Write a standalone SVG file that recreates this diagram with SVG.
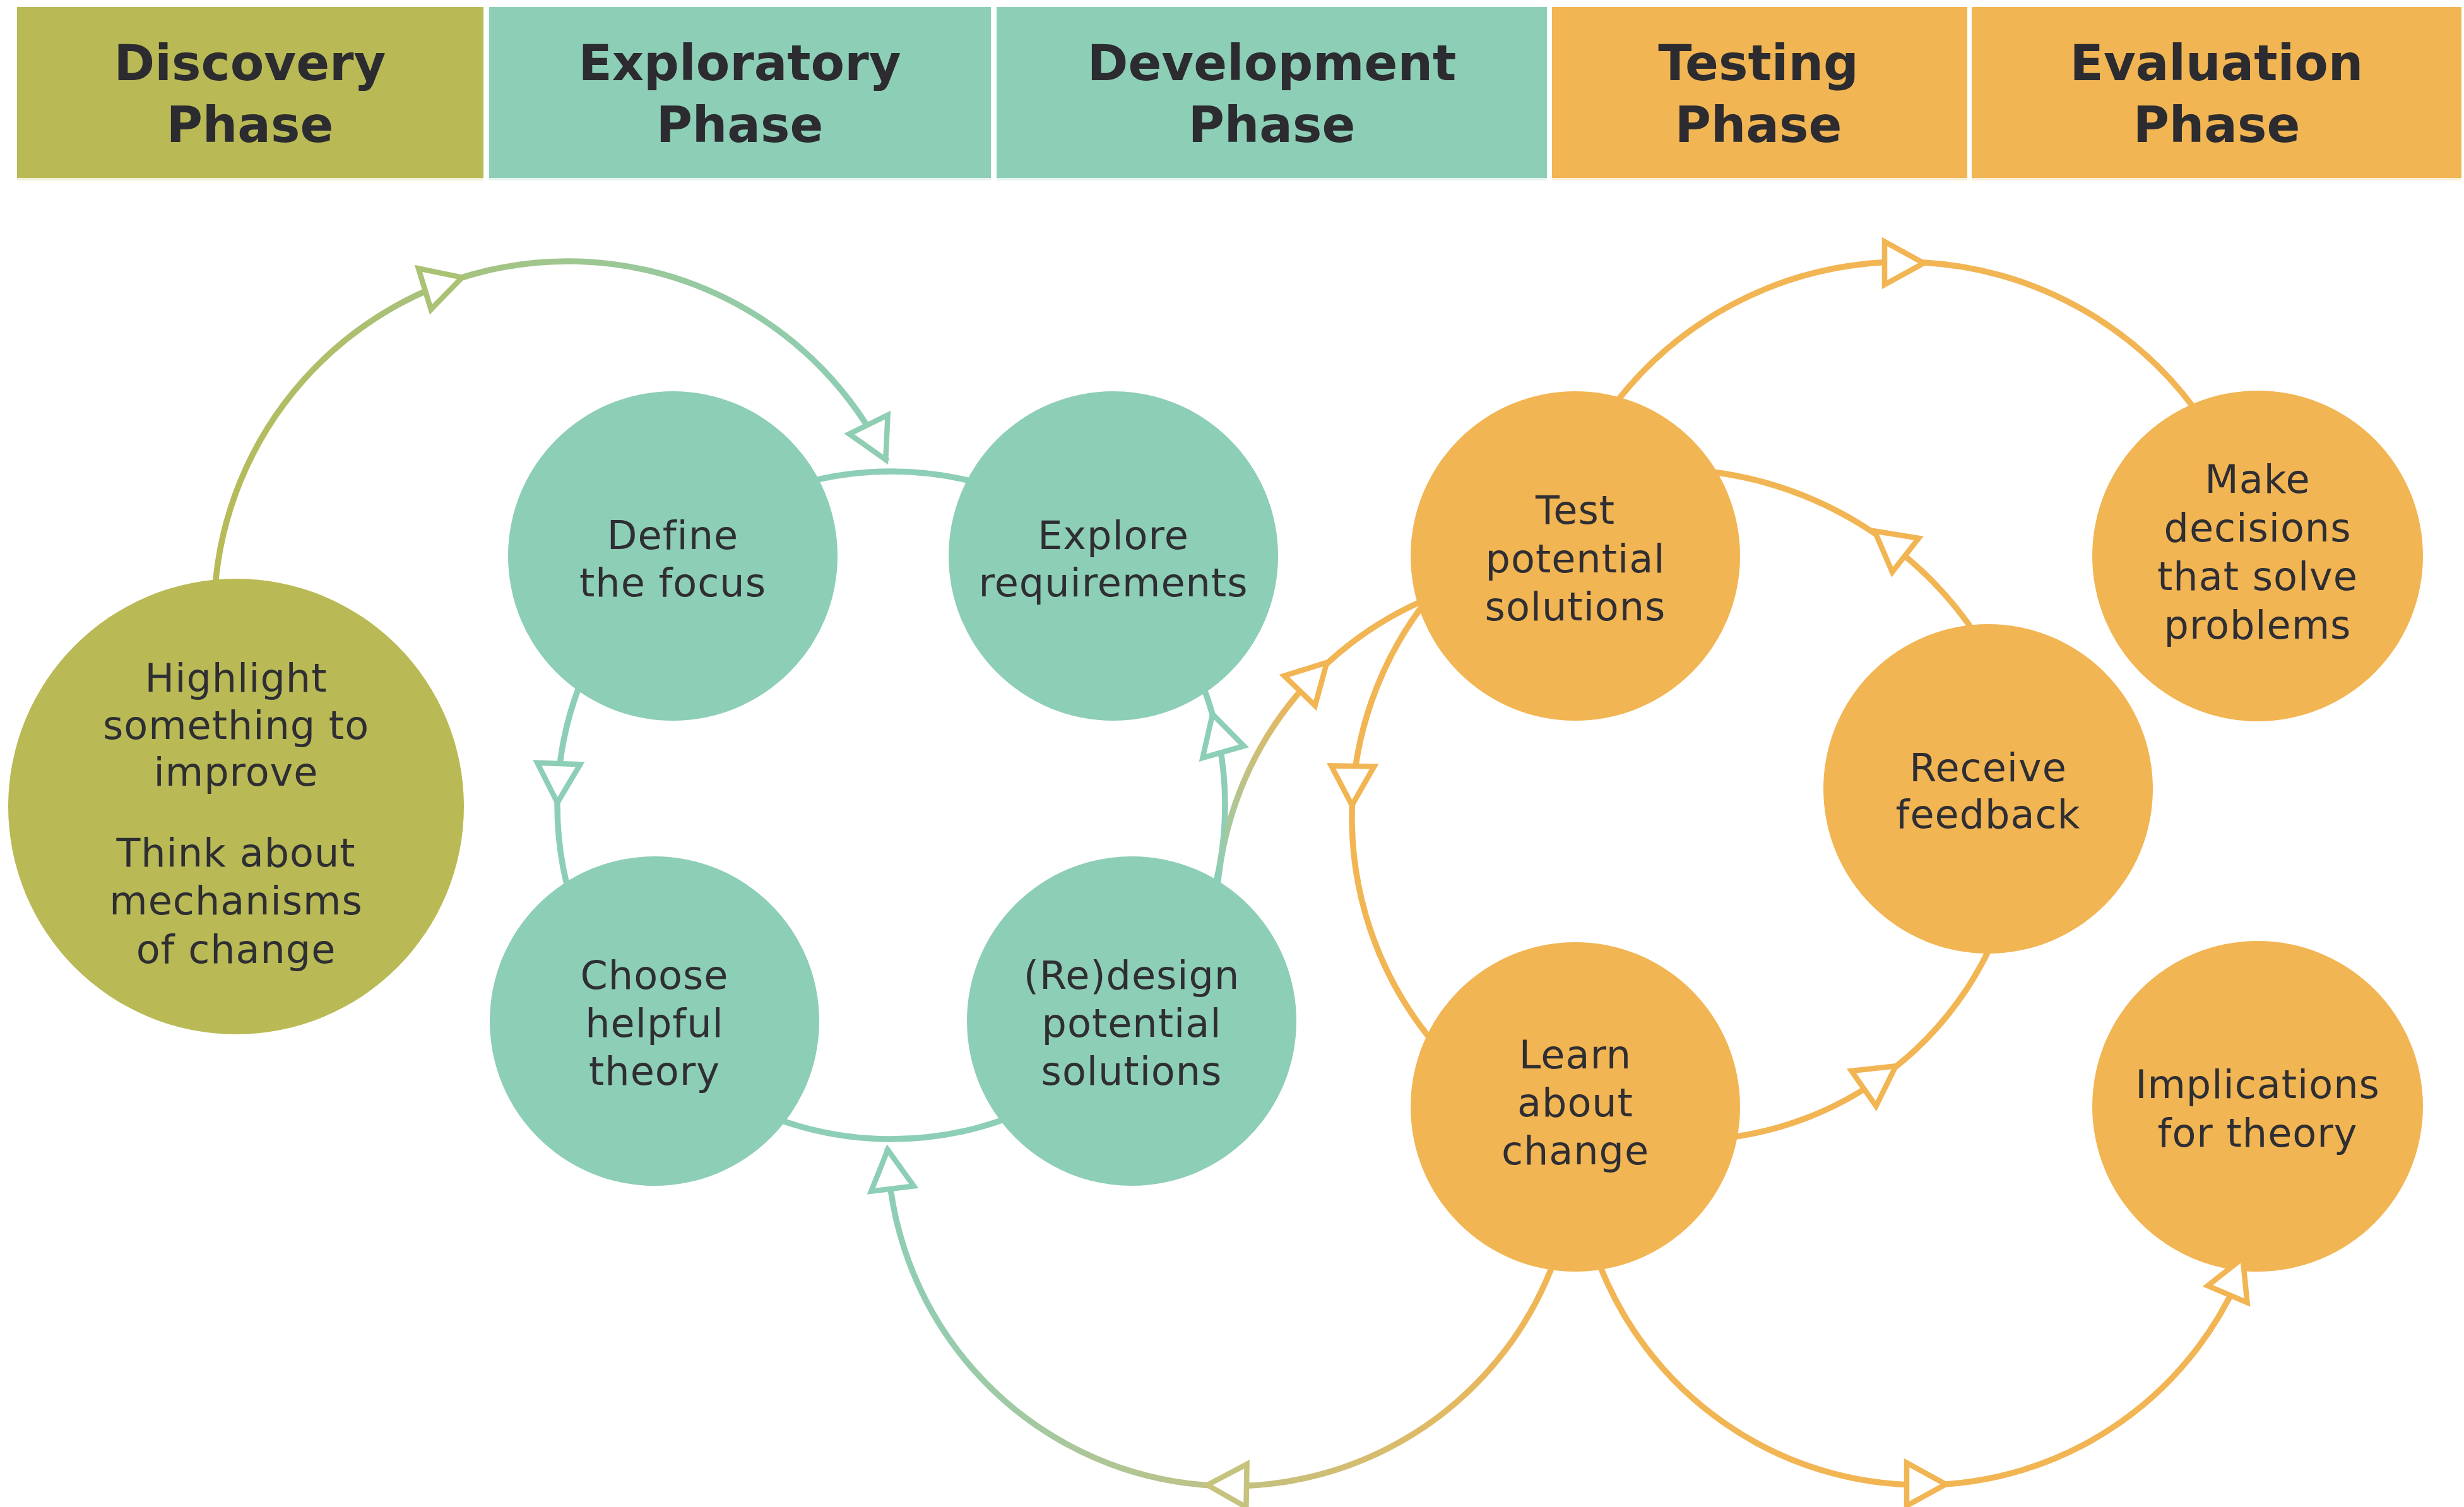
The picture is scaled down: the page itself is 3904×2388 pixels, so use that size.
<svg xmlns="http://www.w3.org/2000/svg" width="3904" height="2388" viewBox="0 0 3904 2388">
<style>
.hdr text{font-family:"DejaVu Sans","Liberation Sans",sans-serif;font-weight:bold;font-size:78px;fill:#2B2B30;text-anchor:middle}
.node text{font-family:"DejaVu Sans","Liberation Sans",sans-serif;font-size:62px;fill:#2E2E33;text-anchor:middle;letter-spacing:1px}
.olive{fill:#B9BA55}
.teal{fill:#8DCEB6}
.orange{fill:#F2B553}
.ln{fill:none;stroke-width:9.5}
.ah{fill:#FFFFFF;stroke-width:8.5;stroke-linejoin:miter}
.strip{opacity:0.22}
</style>
<defs>
<polygon id="ah" points="-4,0 -66,-34 -66,34"/>
<linearGradient id="gOlive" gradientUnits="userSpaceOnUse" x1="340" y1="936" x2="1405" y2="731">
<stop offset="0" stop-color="#B8BA55"/>
<stop offset="1" stop-color="#8DCEB6"/>
</linearGradient>
<linearGradient id="gBottom" gradientUnits="userSpaceOnUse" x1="2463" y1="2000" x2="1406" y2="2000">
<stop offset="0" stop-color="#F2B553"/>
<stop offset="1" stop-color="#8DCEB6"/>
</linearGradient>
<linearGradient id="gRT" gradientUnits="userSpaceOnUse" x1="1935" y1="1390" x2="2060" y2="1090">
<stop offset="0" stop-color="#8DCEB6"/>
<stop offset="1" stop-color="#F2B553"/>
</linearGradient>
</defs>
<rect width="3904" height="2388" fill="#FFFFFF"/>

<g id="header-discovery" class="hdr">
<rect x="27" y="11" width="739" height="271" class="olive"/>
<rect x="27" y="282" width="739" height="4" class="olive strip"/>
<text x="396" y="127">Discovery</text>
<text x="396" y="225">Phase</text>
</g>
<g id="header-exploratory" class="hdr">
<rect x="775" y="11" width="795" height="271" class="teal"/>
<rect x="775" y="282" width="795" height="4" class="teal strip"/>
<text x="1172" y="127">Exploratory</text>
<text x="1172" y="225">Phase</text>
</g>
<g id="header-development" class="hdr">
<rect x="1579" y="11" width="872" height="271" class="teal"/>
<rect x="1579" y="282" width="872" height="4" class="teal strip"/>
<text x="2015" y="127">Development</text>
<text x="2015" y="225">Phase</text>
</g>
<g id="header-testing" class="hdr">
<rect x="2459" y="11" width="658" height="271" class="orange"/>
<rect x="2459" y="282" width="658" height="4" class="orange strip"/>
<text x="2786" y="127">Testing</text>
<text x="2786" y="225">Phase</text>
</g>
<g id="header-evaluation" class="hdr">
<rect x="3124" y="11" width="776" height="271" class="orange"/>
<rect x="3124" y="282" width="776" height="4" class="orange strip"/>
<text x="3512" y="127">Evaluation</text>
<text x="3512" y="225">Phase</text>
</g>

<g id="connectors">
<path class="ln" stroke="url(#gOlive)" d="M 340.4 936.1 A 561 561 0 0 1 1405.1 730.8"/>
<circle class="ln" stroke="#8DCEB6" cx="1412" cy="1276" r="529"/>
<path class="ln" stroke="url(#gBottom)" d="M 2463.1 1996.4 A 545 545 0 0 1 1406.1 1819.5"/>
<path class="ln" stroke="url(#gRT)" d="M 1927.7 1424.4 A 547 547 0 0 1 2269.1 945.8"/>
<path class="ln" stroke="#F2B553" d="M 2260.3 951.5 A 558 558 0 0 0 2272.5 1653.7"/>
<path class="ln" stroke="#F2B553" d="M 3136 1013.9 A 595 595 0 0 0 2699.2 746.3"/>
<path class="ln" stroke="#F2B553" d="M 2726.7 1804.1 A 533 533 0 0 0 3157.9 1490.8"/>
<path class="ln" stroke="#F2B553" d="M 2549.8 652 A 575 575 0 0 1 3491.7 668.5"/>
<path class="ln" stroke="#F2B553" d="M 2530 1992.4 A 548 548 0 0 0 3560 1992.4"/>

<use href="#ah" class="ah" stroke="#A9C274" transform="translate(736 438.5) rotate(-17)"/>
<use href="#ah" class="ah" stroke="#8FCEB3" transform="translate(1405 732) rotate(64)"/>
<use href="#ah" class="ah" stroke="#8DCEB6" transform="translate(883 1276) rotate(92)"/>
<use href="#ah" class="ah" stroke="#8DCEB6" transform="translate(1920 1128) rotate(-106)"/>
<use href="#ah" class="ah" stroke="#8DCEB6" transform="translate(1406 1818) rotate(-97)"/>
<use href="#ah" class="ah" stroke="#C6C37E" transform="translate(1909 2353) rotate(181)"/>
<use href="#ah" class="ah" stroke="#F2B553" transform="translate(2105 1047) rotate(-46)"/>
<use href="#ah" class="ah" stroke="#F2B553" transform="translate(2142 1280) rotate(91)"/>
<use href="#ah" class="ah" stroke="#F2B553" transform="translate(2967 839) rotate(218)"/>
<use href="#ah" class="ah" stroke="#F2B553" transform="translate(3007 1687) rotate(-35)"/>
<use href="#ah" class="ah" stroke="#F2B553" transform="translate(3052 417) rotate(0)"/>
<use href="#ah" class="ah" stroke="#F2B553" transform="translate(3087 2352) rotate(0)"/>
</g>

<g id="node-highlight" class="node">
<circle cx="374" cy="1278" r="361" class="olive"/>
<text x="374" y="1096">Highlight</text>
<text x="374" y="1171">something to</text>
<text x="374" y="1245">improve</text>
<text x="374" y="1373">Think about</text>
<text x="374" y="1449">mechanisms</text>
<text x="374" y="1526">of change</text>
</g>
<g id="node-define" class="node">
<circle cx="1066" cy="881" r="261" class="teal"/>
<text x="1066" y="870">Define</text>
<text x="1066" y="945">the focus</text>
</g>
<g id="node-explore" class="node">
<circle cx="1764" cy="881" r="261" class="teal"/>
<text x="1764" y="870">Explore</text>
<text x="1764" y="945">requirements</text>
</g>
<g id="node-choose" class="node">
<circle cx="1037" cy="1618" r="261" class="teal"/>
<text x="1037" y="1567">Choose</text>
<text x="1037" y="1643">helpful</text>
<text x="1037" y="1719">theory</text>
</g>
<g id="node-redesign" class="node">
<circle cx="1793" cy="1618" r="261" class="teal"/>
<text x="1793" y="1567">(Re)design</text>
<text x="1793" y="1643">potential</text>
<text x="1793" y="1719">solutions</text>
</g>
<g id="node-test" class="node">
<circle cx="2496" cy="881" r="261" class="orange"/>
<text x="2496" y="830">Test</text>
<text x="2496" y="907">potential</text>
<text x="2496" y="983">solutions</text>
</g>
<g id="node-receive" class="node">
<circle cx="3150" cy="1250" r="261" class="orange"/>
<text x="3150" y="1238">Receive</text>
<text x="3150" y="1312">feedback</text>
</g>
<g id="node-learn" class="node">
<circle cx="2496" cy="1754" r="261" class="orange"/>
<text x="2496" y="1693">Learn</text>
<text x="2496" y="1769">about</text>
<text x="2496" y="1845">change</text>
</g>
<g id="node-make" class="node">
<circle cx="3577" cy="881" r="262" class="orange"/>
<text x="3577" y="781">Make</text>
<text x="3577" y="858">decisions</text>
<text x="3577" y="935">that solve</text>
<text x="3577" y="1012">problems</text>
</g>
<g id="node-implications" class="node">
<circle cx="3577" cy="1753" r="262" class="orange"/>
<text x="3577" y="1740">Implications</text>
<text x="3577" y="1817">for theory</text>
</g>

<g id="connector-front-arrowheads">
<use href="#ah" class="ah" stroke="#F2B553" transform="translate(3555 1990) rotate(-67)"/>
</g>
</svg>
